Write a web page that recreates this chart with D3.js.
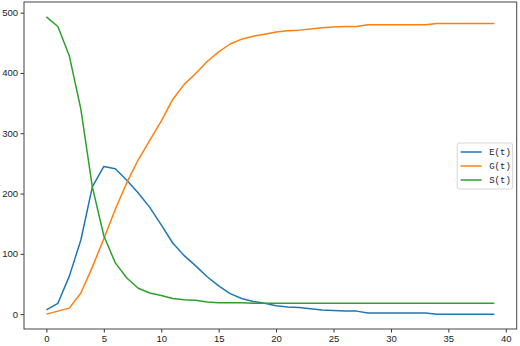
<!DOCTYPE html>
<html>
<head>
<meta charset="utf-8">
<script src="https://cdn.jsdelivr.net/npm/d3@7"></script>
<style>
  body { margin: 0; background: white; }
  svg { display: block; }
</style>
</head>
<body>
<div id="chart"></div>
<script>
// time steps 0..39
let steps = d3.range(0, 40)

let seriesNames = ['E(t)', 'G(t)', 'S(t)']
let seriesColors = ['#1f77b4', '#ff7f0e', '#2ca02c']

let eValues = [7, 18, 63, 123, 211, 245, 241, 222, 201, 177,
  148, 118, 97, 80, 62, 47, 34, 26, 21, 18,
  14, 12, 11, 9, 7, 6, 5, 5, 2, 2,
  2, 2, 2, 2, 0, 0, 0, 0, 0, 0]
let gValues = [0, 5, 10, 35, 78, 125, 174, 218, 256, 288,
  320, 356, 381, 399, 419, 435, 448, 456, 461, 464,
  468, 470, 471, 473, 475, 476, 477, 477, 480, 480,
  480, 480, 480, 480, 482, 482, 482, 482, 482, 482]
let sValues = [493, 477, 428, 340, 211, 130, 85, 60, 43, 35,
  31, 26, 24, 23, 20, 19, 19, 19, 18, 18,
  18, 18, 18, 18, 18, 18, 18, 18, 18, 18,
  18, 18, 18, 18, 18, 18, 18, 18, 18, 18]

let xTicks = [0, 5, 10, 15, 20, 25, 30, 35, 40]
let yTicks = [0, 100, 200, 300, 400, 500]

let margin = { top: 2, left: 24, right: 3.3, bottom: 17 }
let width = 520 - margin.left - margin.right
let height = 346 - margin.top - margin.bottom

let svg = d3
  .select('#chart')
  .append('svg')
  .attr('width', 520)
  .attr('height', 346)
  .append('g')
  .attr('transform', 'translate(' + margin.left + ',' + margin.top + ')')

let series = [eValues, gValues, sValues]

// matplotlib style 5% padding
let xPad = (d3.max(steps) - d3.min(steps)) * 0.05
let allValues = d3.merge(series)
let yPad = (d3.max(allValues) - d3.min(allValues)) * 0.05

let xScale = d3.scaleLinear()
  .domain([d3.min(steps) - xPad, d3.max(steps) + xPad])
  .range([0, width])

let yScale = d3.scaleLinear()
  .domain([d3.min(allValues) - yPad, d3.max(allValues) + yPad])
  .range([height, 0])

let line = d3.line()
  .x((d, i) => xScale(steps[i]))
  .y(d => yScale(d))

series.forEach((values, i) => {
  svg.append('path')
    .datum(values)
    .attr('d', line)
    .attr('fill', 'none')
    .attr('stroke', seriesColors[i])
    .attr('stroke-width', 1.5)
    .attr('stroke-linejoin', 'round')
})

// axes
let xAxis = d3.axisBottom(xScale)
  .tickValues(xTicks)
  .tickSize(3.5)
  .tickPadding(3)

let yAxis = d3.axisLeft(yScale)
  .tickValues(yTicks)
  .tickSize(3.5)
  .tickPadding(2.5)

svg.append('g')
  .attr('transform', 'translate(0,' + height + ')')
  .call(xAxis)
  .call(g => g.select('.domain').remove())

svg.append('g')
  .call(yAxis)
  .call(g => g.select('.domain').remove())

svg.selectAll('.tick text')
  .attr('font-family', 'Liberation Sans, Arial, sans-serif')
  .attr('font-size', 9.5)
  .attr('fill', '#222')

svg.selectAll('.tick line')
  .attr('stroke', '#333')

// frame
svg.append('rect')
  .attr('x', 0)
  .attr('y', 0)
  .attr('width', width)
  .attr('height', height)
  .attr('fill', 'none')
  .attr('stroke', '#444')
  .attr('stroke-width', 1)

// legend
let legend = svg.append('g')
  .attr('transform', 'translate(' + (width - 59.5) + ',' + (height / 2 - 22.5) + ')')

legend.append('rect')
  .attr('width', 55.5)
  .attr('height', 46)
  .attr('rx', 2)
  .attr('fill', 'white')
  .attr('fill-opacity', 0.8)
  .attr('stroke', '#d6d6d6')
  .attr('stroke-width', 1)

seriesNames.forEach((name, i) => {
  let row = legend.append('g')
    .attr('transform', 'translate(0,' + (9 + i * 14) + ')')
  row.append('line')
    .attr('x1', 3.5)
    .attr('x2', 24.5)
    .attr('stroke', seriesColors[i])
    .attr('stroke-width', 1.5)
  row.append('text')
    .text(name)
    .attr('x', 32)
    .attr('y', 3.2)
    .attr('font-family', 'Liberation Mono, DejaVu Sans Mono, monospace')
    .attr('font-size', 9)
    .attr('fill', '#222')
})
</script>
</body>
</html>
